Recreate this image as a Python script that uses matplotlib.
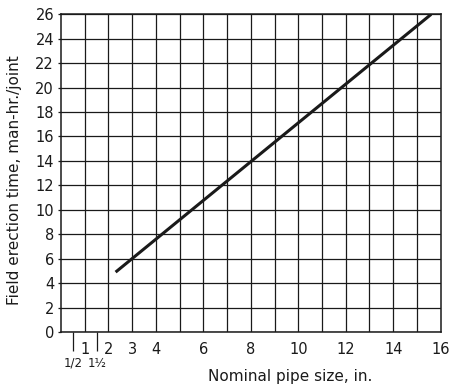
import numpy as np
import matplotlib.pyplot as plt

# erection time line
pipe_size = [2.3, 15.6]
man_hr = [4.9, 26.0]

major_ticks = [1, 2, 3, 4, 6, 8, 10, 12, 14, 16]
major_labels = ["1", "2", "3", "4", "6", "8", "10", "12", "14", "16"]
frac_ticks = [0.5, 1.5]
frac_labels = ["1/2", "1½"]
y_ticks = list(range(0, 27, 2))

fig = plt.figure(figsize=(4.5, 3.86), dpi=100)
ax = fig.add_axes([0.1356, 0.1399, 0.9793 - 0.1356, 0.963 - 0.1399])

ink = "#1a1a1a"
ax.set_xlim(0, 16)
ax.set_ylim(0, 26)

# square-ish grid: every inch across, every 2 man-hr up
ax.vlines(np.arange(1, 16), 0, 26, color=ink, lw=0.9, zorder=1)
ax.set_yticks(y_ticks)
ax.grid(axis="y", color=ink, lw=0.9, zorder=1)

ax.plot(pipe_size, man_hr, color=ink, lw=2.2, solid_capstyle="butt", zorder=3)

ax.set_xticks(major_ticks)
ax.set_xticklabels(major_labels)
ax.set_xticks(frac_ticks, minor=True)
ax.set_xticklabels(frac_labels, minor=True)
ax.tick_params(axis="x", which="major", length=0, pad=7, labelsize=10.5, colors=ink)
ax.tick_params(axis="x", which="minor", length=14, width=0.9, pad=4,
               labelsize=8.5, colors=ink)
ax.tick_params(axis="y", length=2, width=0.9, pad=3, labelsize=10.5, colors=ink)

for s in ax.spines.values():
    s.set_color(ink)
    s.set_linewidth(1.1)

ax.set_xlabel("Nominal pipe size, in.", fontsize=11, color=ink)
ax.set_ylabel("Field erection time, man-hr./joint", fontsize=11, color=ink)
ax.xaxis.set_label_coords(0.603, -0.115)
ax.yaxis.set_label_coords(-0.103, 0.478)

fig.savefig("out.png", dpi=100)
